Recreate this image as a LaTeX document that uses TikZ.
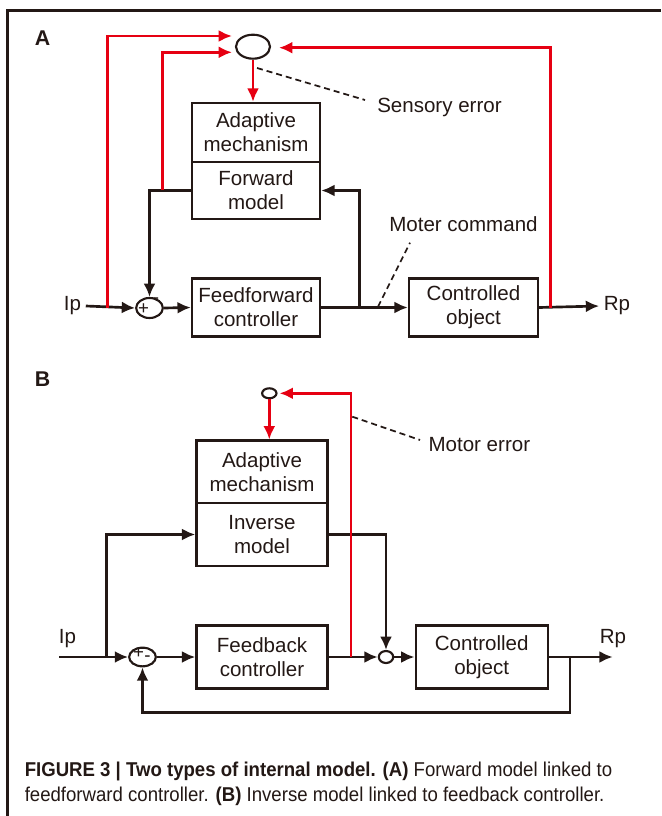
\documentclass[tikz,border=0pt]{standalone}
\usepackage{fontspec}
\setmainfont{Liberation Sans}
\newfontfamily\capfont[FakeStretch=0.93]{Liberation Sans}
\usetikzlibrary{arrows.meta,shapes.geometric}
\definecolor{ink}{RGB}{35,24,21}
\definecolor{sigred}{RGB}{230,0,18}
\begin{document}
\begin{tikzpicture}[x=0.75pt,y=-0.75pt,
  box/.style={draw=ink,line width=1.8pt,inner sep=0pt,align=center,text=ink,
    font=\fontsize{15.4}{18}\selectfont},
  sumj/.style={draw=ink,ellipse,line width=1.6pt,inner sep=0pt},
  wire/.style={draw=ink,line width=2pt,-{Latex[length=10pt,width=9pt]}},
  redwire/.style={draw=sigred,line width=2.1pt,-{Latex[length=10pt,width=9pt]}},
  leader/.style={draw=ink,line width=1.3pt,dash pattern=on 4.5pt off 3pt},
  lbl/.style={text=ink,inner sep=0pt,font=\fontsize{15.4}{18}\selectfont},
  io/.style={text=ink,font=\fontsize{15.4}{18}\selectfont},
  sign/.style={text=ink,inner sep=0pt,font=\fontsize{14}{14}\selectfont},
  panel/.style={text=ink,inner sep=0pt,font=\bfseries\fontsize{16}{16}\selectfont},
  captext/.style={text=ink,inner sep=0pt,anchor=base west,font=\capfont\fontsize{15}{18}\selectfont}
]
\useasboundingbox (0,0) rectangle (661,816);
\fill[white] (0,0) rectangle (661,816);
% frame
\draw[ink,line width=1.8pt] (7.5,816) -- (7.5,10.5) -- (661,10.5);

% ---------------- Panel A ----------------
\node[panel] (pA) at (42.5,38.5) {A};
\node[sumj,minimum width=25.5pt,minimum height=18pt] (eA) at (253,46.7) {};
\node[box,minimum width=96pt,minimum height=44.25pt] (AM) at (256,132.5) {Adaptive\\mechanism};
\node[box,minimum width=96pt,minimum height=42.75pt] (FM) at (256,190.5) {Forward\\model};
\node[box,minimum width=96pt,minimum height=43.5pt] (FF) at (256,307.5) {Feedforward\\controller};
\node[box,minimum width=96.75pt,minimum height=43.5pt] (COA) at (473.5,307.5) {Controlled\\object};
\node[sumj,minimum width=20pt,minimum height=15pt] (jA) at (149.5,308) {};
\node[sign] (plA) at (143.5,309.5) {+};
\node[sign] (miA) at (156,300.5) {-};
\node[io] (IpA) at (72.5,306) {Ip};
\node[io] (RpA) at (617,306) {Rp};
\node[lbl,anchor=base west] (SE) at (377,112.7) {Sensory error};
\node[lbl,anchor=base west] (MC) at (389,231.7) {Moter command};

\draw[wire] (IpA.east) -- (jA.west);
\draw[wire] (jA.east) -- (FF.west);
\draw[wire] (FF.east) -- (COA.west);
\draw[wire] (COA.east) -- (RpA.west);
\coordinate (brA) at (359.5,307.5);
\draw[wire] (brA) |- (FM.east);
\draw[wire] (FM.west) -| (jA.north);

\coordinate (r1a) at (107.6,307.5);
\coordinate (r1b) at (232,36);
\coordinate (r2a) at (162.5,190.5);
\coordinate (r2b) at (232,52.3);
\coordinate (r3a) at (550.6,307.5);
\coordinate (r3b) at (279,47.7);
\draw[redwire] (r1a) |- (r1b);
\draw[redwire] (r2a) |- (r2b);
\draw[redwire] (r3a) |- (r3b);
\draw[redwire] (eA.south) -- (eA.south |- AM.north);

\coordinate (seA) at (257,68);
\coordinate (seB) at (365,100);
\draw[leader] (seA) -- (seB);
\coordinate (mcA) at (378,306.7);
\coordinate (mcB) at (410,242.7);
\draw[leader] (mcA) -- (mcB);

% ---------------- Panel B ----------------
\node[panel] (pB) at (42.5,379) {B};
\node[sumj,minimum width=10.8pt,minimum height=7.5pt] (eB) at (269.3,393.3) {};
\node[box,minimum width=98.25pt,minimum height=46.7pt] (AMB) at (262,471.8) {Adaptive\\mechanism};
\node[box,minimum width=98.25pt,minimum height=47.25pt] (IM) at (262,534.5) {Inverse\\model};
\node[box,minimum width=98.25pt,minimum height=47pt] (FB) at (262,657) {Feedback\\controller};
\node[box,minimum width=99pt,minimum height=47pt] (COB) at (481.7,657) {Controlled\\object};
\node[sumj,minimum width=20pt,minimum height=14pt] (jB) at (142.5,657) {};
\node[sign] (plB) at (138.5,653) {+};
\node[sign] (miB) at (147.5,658.5) {-};
\node[sumj,minimum width=10.8pt,minimum height=9pt] (j2) at (386,657) {};
\node[io] (IpB) at (67.5,639) {Ip};
\node[io] (RpB) at (613,639) {Rp};
\node[lbl,anchor=base west] (ME) at (428.3,451.7) {Motor error};

\coordinate (inB) at (59,657);
\coordinate (outB) at (612.7,657);
\draw[wire] (inB) -- (jB.west);
\draw[wire] (jB.east) -- (FB.west);
\draw[wire] (FB.east) -- (j2.west);
\draw[wire] (j2.east) -- (COB.west);
\draw[wire] (COB.east) -- (outB);
\coordinate (brB) at (106.7,657);
\draw[wire] (brB) |- (IM.west);
\draw[wire] (IM.east) -| (j2.north);
\coordinate (fbk) at (570,657);
\draw[wire] (fbk) -- ++(0,55.7) -| (jB.south);

\coordinate (rBa) at (351,657);
\draw[redwire,shorten >=1.5pt] (rBa) |- (eB.east);
\draw[redwire] (eB.south) -- (eB.south |- AMB.north);
\coordinate (meA) at (352.3,416.7);
\coordinate (meB) at (420,440);
\draw[leader] (meA) -- (meB);

% ---------------- Caption ----------------
\node[captext] (cap1) at (24.5,776.7) {\textbf{FIGURE 3 | Two types of internal model. (A)} Forward model linked to};
\node[captext] (cap2) at (24.5,801.7) {feedforward controller. \textbf{(B)} Inverse model linked to feedback controller.};
\end{tikzpicture}
\end{document}
